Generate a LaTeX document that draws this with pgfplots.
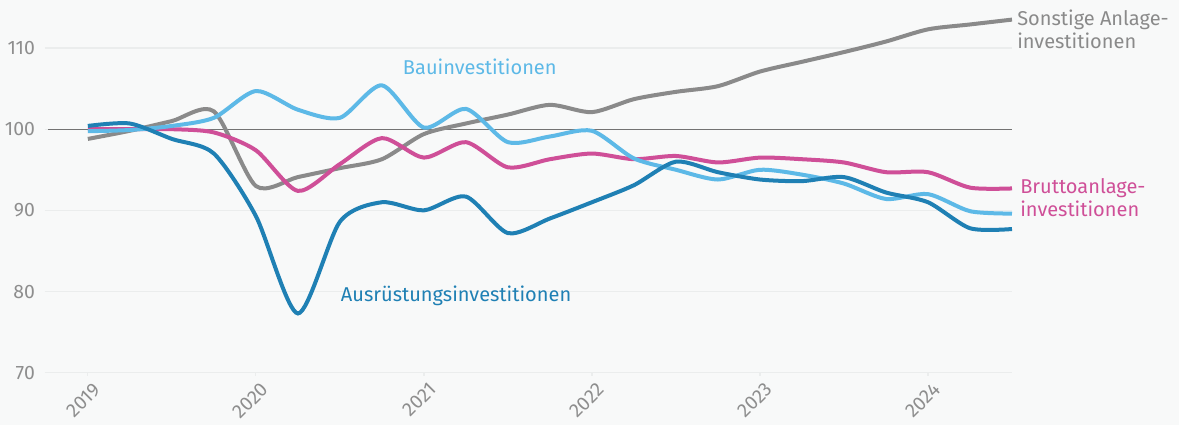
\documentclass[border=0pt]{standalone}
\usepackage{fontspec}
\setmainfont{Fira Sans}
\usepackage{pgfplots}
\pgfplotsset{compat=1.18}
\definecolor{bgc}{HTML}{F8F9F9}
\definecolor{cDark}{HTML}{1F80B4}
\definecolor{cLight}{HTML}{5DB9E7}
\definecolor{cMag}{HTML}{CF4F98}
\definecolor{cGray}{HTML}{8A8A8A}
\definecolor{cTick}{HTML}{8E8E8E}
\definecolor{cGrid}{HTML}{EBEDED}
\begin{document}
\begin{tikzpicture}
\fill[bgc] (-22.5pt,-26.15pt) rectangle (567pt,186.35pt);
\path[use as bounding box] (-22.5pt,-26.15pt) rectangle (567pt,186.35pt);
\begin{axis}[
  anchor=south west, at={(0,0)},
  scale only axis, width=483.5pt, height=162.35pt,
  xmin=2018.745, xmax=2024.5, ymin=70, ymax=110,
  clip=false,
  axis line style={draw=none},
  ytick={70,80,90,100,110},
  xtick={2019,2020,2021,2022,2023,2024},
  xticklabel style={rotate=45, anchor=east, font=\fontsize{9.7}{10}\selectfont, text=cTick, xshift=3pt, yshift=-7pt},
  yticklabel style={font=\fontsize{9.7}{10}\selectfont, text=cTick, xshift=0pt},
  /pgf/number format/assume math mode=true,
  /pgf/number format/set thousands separator={},
  ymajorgrids, grid style={cGrid, line width=0.6pt},
  tick pos=left,
  ytick style={draw=none},
  xtick style={draw=cGrid, line width=0.6pt},
  major tick length=1.5pt,
  tick align=outside,
]
\draw[black!55, line width=0.5pt] (axis cs:2018.765,100) -- (axis cs:2024.5,100);
% Sonstige Anlageinvestitionen
\addplot[cGray, line width=2pt, smooth, tension=0.45] coordinates {
(2019.00,98.8)(2019.25,99.8)(2019.50,101.0)(2019.75,102.2)
(2020.00,93.0)(2020.25,94.1)(2020.50,95.2)(2020.75,96.3)
(2021.00,99.4)(2021.25,100.7)(2021.50,101.8)(2021.75,103.0)
(2022.00,102.1)(2022.25,103.7)(2022.50,104.6)(2022.75,105.3)
(2023.00,107.1)(2023.25,108.3)(2023.50,109.5)(2023.75,110.8)
(2024.00,112.3)(2024.25,112.9)(2024.50,113.5)};
% Bruttoanlageinvestitionen
\addplot[cMag, line width=2pt, smooth, tension=0.45] coordinates {
(2019.00,100.0)(2019.25,100.0)(2019.50,100.0)(2019.75,99.6)
(2020.00,97.4)(2020.25,92.4)(2020.50,95.7)(2020.75,98.9)
(2021.00,96.5)(2021.25,98.4)(2021.50,95.3)(2021.75,96.3)
(2022.00,97.0)(2022.25,96.3)(2022.50,96.7)(2022.75,95.9)
(2023.00,96.5)(2023.25,96.3)(2023.50,95.9)(2023.75,94.7)
(2024.00,94.7)(2024.25,92.8)(2024.50,92.7)};
% Bauinvestitionen
\addplot[cLight, line width=2pt, smooth, tension=0.45] coordinates {
(2019.00,99.75)(2019.25,99.9)(2019.50,100.4)(2019.75,101.4)
(2020.00,104.7)(2020.25,102.4)(2020.50,101.4)(2020.75,105.4)
(2021.00,100.2)(2021.25,102.5)(2021.50,98.4)(2021.75,99.1)
(2022.00,99.8)(2022.25,96.4)(2022.50,95.0)(2022.75,93.8)
(2023.00,95.0)(2023.25,94.4)(2023.50,93.3)(2023.75,91.4)
(2024.00,92.0)(2024.25,89.9)(2024.50,89.6)};
% Ausruestungsinvestitionen
\addplot[cDark, line width=2pt, smooth, tension=0.45] coordinates {
(2019.00,100.4)(2019.25,100.7)(2019.50,98.8)(2019.75,97.0)
(2020.00,89.3)(2020.25,77.3)(2020.50,88.6)(2020.75,91.0)
(2021.00,90.0)(2021.25,91.7)(2021.50,87.2)(2021.75,89.0)
(2022.00,91.0)(2022.25,93.1)(2022.50,96.0)(2022.75,94.7)
(2023.00,93.8)(2023.25,93.6)(2023.50,94.1)(2023.75,92.2)
(2024.00,91.0)(2024.25,87.8)(2024.50,87.7)};
\node[anchor=west, text=cLight, font=\fontsize{10}{11.5}\selectfont, inner sep=0pt] at (axis cs:2020.873,107.63) {Bauinvestitionen};
\node[anchor=west, text=cDark, font=\fontsize{10}{11.5}\selectfont, inner sep=0pt] at (axis cs:2020.504,79.45) {Ausrüstungsinvestitionen};
\node[anchor=west, align=left, text=cGray, font=\fontsize{10}{11.5}\selectfont, inner sep=0pt] at (axis cs:2024.529,112.3) {Sonstige Anlage-\\investitionen};
\node[anchor=west, align=left, text=cMag, font=\fontsize{10}{11.5}\selectfont, inner sep=0pt] at (axis cs:2024.547,91.6) {Bruttoanlage-\\investitionen};
\end{axis}
\end{tikzpicture}
\end{document}
